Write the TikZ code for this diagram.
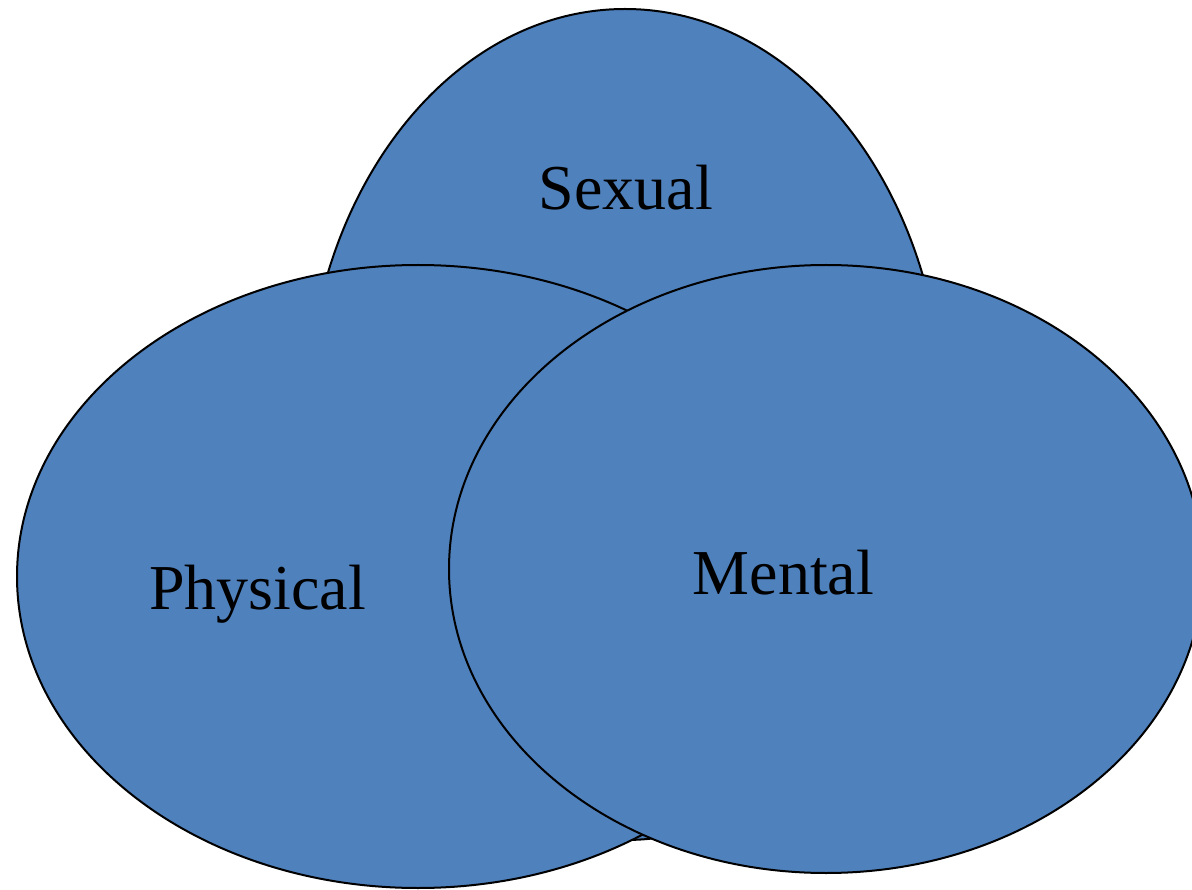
\documentclass[tikz,border=0pt]{standalone}
\usepackage{fontspec}
\setmainfont{Liberation Serif}
\definecolor{setblue}{HTML}{4F81BD}
\begin{document}
\begin{tikzpicture}[x=1pt,y=-1pt,
  setshape/.style={fill=setblue,draw=black,line width=2pt},
  setlabel/.style={font=\fontsize{64}{70}\selectfont,anchor=base,inner sep=0pt}]
\useasboundingbox (0,0) rectangle (1192,890);
\filldraw[setshape] (625,424.5) ellipse [x radius=319, y radius=415.5];
\filldraw[setshape] (418,576.5) ellipse [x radius=401, y radius=311.5];
\filldraw[setshape] (826,569) ellipse [x radius=377, y radius=304];
\node[setlabel] (sexual) at (626,210) {Sexual};
\node[setlabel] (physical) at (257.5,609) {Physical};
\node[setlabel] (mental) at (783.5,594) {Mental};
\end{tikzpicture}
\end{document}
